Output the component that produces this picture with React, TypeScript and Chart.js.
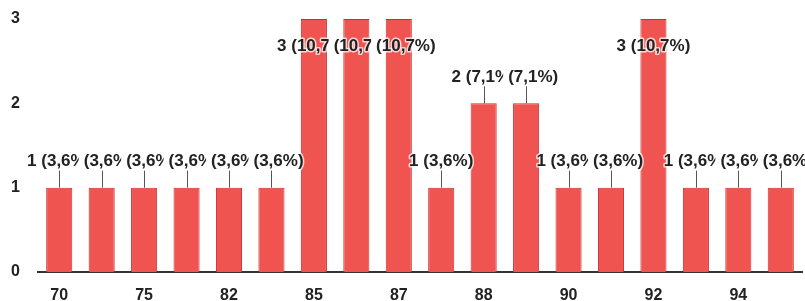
import React, { useEffect, useRef } from "react";
import { Chart, registerables } from "chart.js";

Chart.register(...registerables);

const categories = ["70", "72", "75", "80", "82", "84", "85", "86", "87", "87,5", "88", "89", "90", "91", "92", "93", "94", "95"];
const counts = [1, 1, 1, 1, 1, 1, 3, 3, 3, 1, 2, 2, 1, 1, 3, 1, 1, 1];
const yMax = 3;

const FONT = "'Liberation Sans', Arial, sans-serif";

const labelPlugin = {
  id: "barLabels",
  afterDatasetsDraw(chart: any) {
    const ctx = chart.ctx as CanvasRenderingContext2D;
    const meta = chart.getDatasetMeta(0);
    const total = counts.reduce((a, b) => a + b, 0);
    const area = chart.chartArea;
    ctx.save();
    ctx.font = `bold 17px ${FONT}`;
    const items = meta.data.map((el: any, i: number) => {
      const v = counts[i];
      const pct = ((v / total) * 100).toFixed(1).replace(".", ",");
      const full = `${v} (${pct}%)`;
      const prefix = `${v} `;
      const dropPrefix = i > 0 && counts[i - 1] === v;
      const fullW = ctx.measureText(full).width;
      const left = el.x - fullW / 2;
      const text = dropPrefix ? full.slice(prefix.length) : full;
      const start = dropPrefix ? left + ctx.measureText(prefix).width : left;
      const above = el.y - 26;
      const inside = above - 8 < area.top;
      const y = inside ? el.y + 27 : above;
      return { x: el.x, top: el.y, text, start, y, inside, v };
    });
    items.forEach((it: any, i: number) => {
      if (!it.inside) {
        ctx.beginPath();
        ctx.strokeStyle = "#555";
        ctx.lineWidth = 1;
        ctx.moveTo(Math.round(it.x) + 0.5, it.y + 9);
        ctx.lineTo(Math.round(it.x) + 0.5, it.top);
        ctx.stroke();
      }
      const next = items[i + 1];
      const clipRight = next && next.v === it.v ? next.start - 5 : chart.width;
      ctx.save();
      ctx.beginPath();
      ctx.rect(it.start - 4, 0, clipRight - (it.start - 4), chart.height);
      ctx.clip();
      ctx.textAlign = "left";
      ctx.textBaseline = "middle";
      ctx.lineJoin = "round";
      ctx.lineWidth = 3;
      ctx.strokeStyle = "rgba(255,255,255,0.75)";
      ctx.strokeText(it.text, it.start, it.y);
      ctx.fillStyle = "#222";
      ctx.fillText(it.text, it.start, it.y);
      ctx.restore();
    });
    ctx.restore();
  },
};

export default function App() {
  const ref = useRef<HTMLCanvasElement>(null);
  useEffect(() => {
    document.body.style.margin = "0";
    const chart = new Chart(ref.current!, {
      type: "bar",
      data: {
        labels: categories,
        datasets: [
          {
            data: counts,
            backgroundColor: "rgb(239,84,80)",
            borderColor: "rgb(205,45,45)",
            borderWidth: 1,
            barPercentage: 1,
            categoryPercentage: 0.615,
          },
        ],
      },
      options: {
        responsive: false,
        animation: false,
        events: [],
        layout: { padding: { top: 19, right: 3, left: 0, bottom: 0 } },
        plugins: { legend: { display: false }, tooltip: { enabled: false } },
        scales: {
          x: {
            grid: { display: false, drawTicks: false },
            border: { display: true, color: "#333", width: 2 },
            ticks: {
              autoSkip: false,
              maxRotation: 0,
              padding: 14,
              color: "#222",
              font: { family: FONT, size: 16, weight: "bold" },
              callback: (_v: any, idx: number) => (idx % 2 === 0 ? categories[idx] : ""),
            },
            afterFit: (s: any) => {
              s.height = 29;
            },
          },
          y: {
            min: 0,
            max: yMax,
            grid: { display: false, drawTicks: false },
            border: { display: false },
            ticks: {
              stepSize: 1,
              padding: 18,
              color: "#222",
              font: { family: FONT, size: 16, weight: "bold" },
            },
            afterFit: (s: any) => {
              s.width = 38;
              s.paddingTop = 0;
              s.paddingBottom = 0;
            },
          },
        },
      },
      plugins: [labelPlugin],
    });
    return () => chart.destroy();
  }, []);
  return (
    <div style={{ width: 805, height: 301 }}>
      <canvas ref={ref} width={805} height={301} />
    </div>
  );
}
